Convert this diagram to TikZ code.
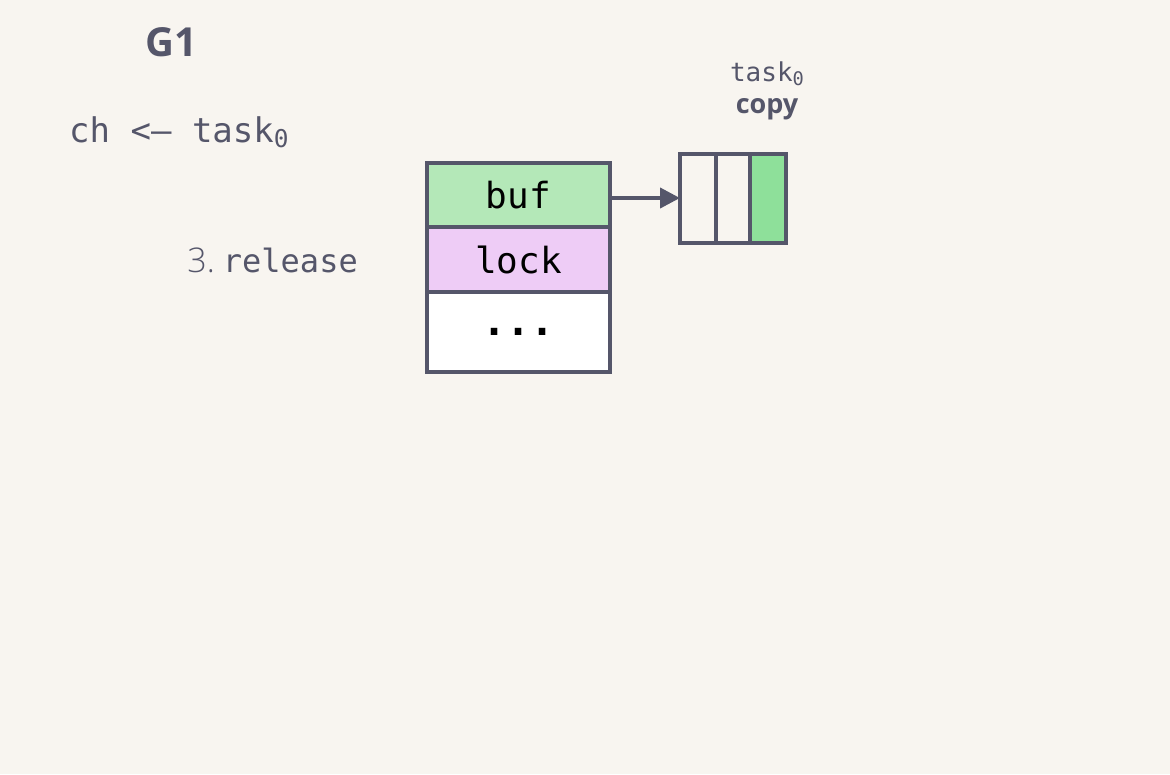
\documentclass[tikz,border=0pt]{standalone}
\usepackage{fontspec}
\setmainfont{Open Sans}
\setmonofont{DejaVu Sans Mono}
\newfontfamily\lightsans{Open Sans Light}
\usetikzlibrary{arrows.meta}
\definecolor{bg}{HTML}{F8F5F0}
\definecolor{ink}{HTML}{55566A}
\definecolor{bufgreen}{HTML}{B4E8B8}
\definecolor{lockpurple}{HTML}{EECCF6}
\definecolor{cellgreen}{HTML}{8EE09A}
\newcommand{\subzero}{\raisebox{-0.16em}{\scalebox{0.72}{0}}}
\tikzset{
  cell/.style={draw=ink, line width=4pt, outer sep=0pt, minimum width=183pt, inner sep=0pt, font=\fontsize{36}{40}\selectfont\ttfamily, text=black},
  slot/.style={draw=ink, line width=4pt, outer sep=0pt, minimum height=89pt, inner sep=0pt},
  lbl/.style={text=ink, inner sep=0pt}
}
\begin{document}
\begin{tikzpicture}[x=1pt,y=-1pt]
\fill[bg] (0,0) rectangle (1170,774);
\useasboundingbox (0,0) rectangle (1170,774);
\node[lbl, font=\fontsize{40}{44}\selectfont\bfseries, anchor=base] (g1) at (171,56) {G1};
\node[lbl, font=\fontsize{34}{38}\selectfont\ttfamily, anchor=base west] (send) at (69,142) {ch <– task\subzero};
\node[lbl, anchor=base east] (rel) at (358,272) {{\fontsize{34}{36}\selectfont\lightsans 3.}\hspace{8pt}{\fontsize{32}{36}\selectfont\ttfamily release}};
\node[cell, fill=bufgreen, minimum height=64pt, anchor=north west] (buf) at (427,163) {buf};
\node[cell, fill=lockpurple, minimum height=65pt, anchor=north] (lock) at (buf.south) {lock};
\node[cell, fill=white, minimum height=80pt, anchor=north, font=\fontsize{40}{44}\selectfont\ttfamily] (dots) at (lock.south) {\bfseries ...};
\node[slot, fill=bg, minimum width=36pt, anchor=north west] (s1) at (680,154) {};
\node[slot, fill=bg, minimum width=34pt, anchor=west] (s2) at (s1.east) {};
\node[slot, fill=cellgreen, minimum width=36pt, anchor=west] (s3) at (s2.east) {};
\coordinate (tip) at (s1.west |- 0,198);
\coordinate (start) at (buf.east |- 0,198);
\draw[ink, line width=4pt, -{Triangle[length=20pt,width=20pt]}] (start) -- (tip);
\node[lbl, font=\fontsize{26}{28}\selectfont\ttfamily, anchor=base] (tk) at (767,81) {task\subzero};
\node[lbl, font=\fontsize{27}{30}\selectfont\bfseries, anchor=base] (cp) at (767,113) {copy};
\end{tikzpicture}
\end{document}
